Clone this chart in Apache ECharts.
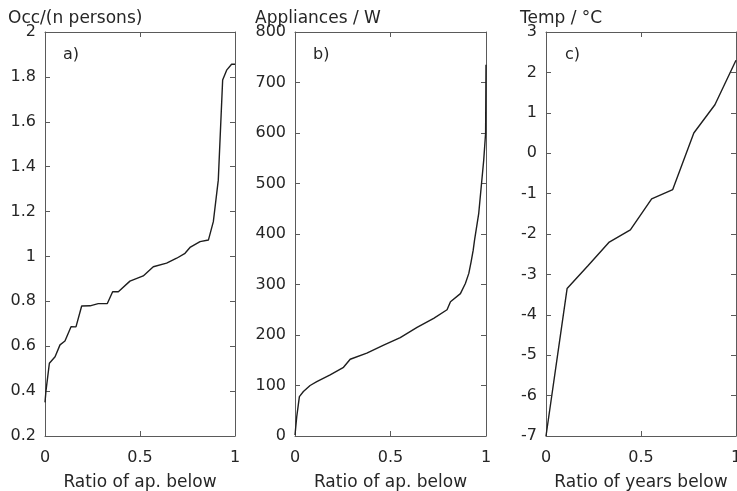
<!DOCTYPE html>
<html>
<head>
<meta charset="utf-8">
<script src="https://cdn.jsdelivr.net/npm/echarts@6/dist/echarts.min.js"></script>
<style>html,body{margin:0;padding:0;background:#fff;}#c{width:737px;height:491px;}</style>
</head>
<body>
<div id="c"></div>
<script>
// Panel a: occupancy
const occX = [0, 0.005, 0.023, 0.053, 0.079, 0.105, 0.137, 0.163, 0.193, 0.237, 0.28, 0.328, 0.356, 0.386, 0.447, 0.517, 0.57, 0.64, 0.693, 0.737, 0.763, 0.816, 0.86, 0.886, 0.912, 0.935, 0.956, 0.982, 1];
const occY = [0.35, 0.4, 0.524, 0.553, 0.606, 0.623, 0.687, 0.686, 0.779, 0.78, 0.79, 0.79, 0.843, 0.843, 0.89, 0.913, 0.954, 0.97, 0.992, 1.014, 1.04, 1.066, 1.073, 1.155, 1.34, 1.786, 1.83, 1.856, 1.856];
// Panel b: appliances
const appX = [0, 0.009, 0.023, 0.044, 0.079, 0.114, 0.184, 0.254, 0.289, 0.376, 0.464, 0.551, 0.639, 0.726, 0.796, 0.814, 0.866, 0.892, 0.91, 0.922, 0.933, 0.94, 0.962, 0.988, 0.998, 1];
const appY = [2, 38, 78, 88, 100, 107.5, 121, 136, 152, 164, 180, 195, 215, 233, 250, 266, 282, 302, 322, 345, 368, 388, 441, 546, 600, 735];
// Panel c: temperature
const tempX = [0, 0.111, 0.222, 0.333, 0.444, 0.556, 0.667, 0.778, 0.889, 1];
const tempY = [-7, -3.35, -2.78, -2.2, -1.9, -1.13, -0.9, 0.5, 1.2, 2.3];

const yNames = ['Occ/(n persons)', 'Appliances / W', 'Temp / °C'];
const xNames = ['Ratio of ap. below', 'Ratio of ap. below', 'Ratio of years below'];
const panelTags = ['a)', 'b)', 'c)'];
const yRanges = [[0.2, 2, 0.2], [0, 800, 100], [-7, 3, 1]];

const FONT = 'DejaVu Sans';
const TXT = '#262626';
const AX = '#5a5a5a';
const grids = [
  {left: 45, top: 32, width: 190, height: 404, outerBoundsMode: 'none', containLabel: false},
  {left: 295, top: 32, width: 191, height: 404, outerBoundsMode: 'none', containLabel: false},
  {left: 546, top: 32, width: 190, height: 404, outerBoundsMode: 'none', containLabel: false}
];
const seriesData = [[occX, occY], [appX, appY], [tempX, tempY]];

const xAxis = [], yAxis = [], series = [];
grids.forEach((g, i) => {
  const common = {
    axisLine: {show: true, onZero: false, lineStyle: {color: AX, width: 1}},
    axisTick: {show: true, inside: true, length: 5, lineStyle: {color: AX}},
    splitLine: {show: false}
  };
  xAxis.push(Object.assign({}, common, {
    gridIndex: i, type: 'value', position: 'bottom', min: 0, max: 1, interval: 0.5,
    axisLabel: {color: TXT, fontFamily: FONT, fontSize: 16, margin: 14},
    name: xNames[i], nameLocation: 'middle', nameGap: 38,
    nameTextStyle: {color: TXT, fontFamily: FONT, fontSize: 17}
  }));
  xAxis.push(Object.assign({}, common, {
    gridIndex: i, type: 'value', position: 'top', min: 0, max: 1, interval: 0.5,
    axisLabel: {show: false}
  }));
  const [mn, mx, iv] = yRanges[i];
  yAxis.push(Object.assign({}, common, {
    gridIndex: i, type: 'value', position: 'left', min: mn, max: mx, interval: iv,
    axisLabel: {color: TXT, fontFamily: FONT, fontSize: 16, margin: 9}
  }));
  yAxis.push(Object.assign({}, common, {
    gridIndex: i, type: 'value', position: 'right', min: mn, max: mx, interval: iv,
    axisLabel: {show: false}
  }));
  const [xs, ys] = seriesData[i];
  series.push({
    type: 'line', xAxisIndex: i * 2, yAxisIndex: i * 2, showSymbol: false, symbol: 'none',
    data: xs.map((x, k) => [x, ys[k]]),
    lineStyle: {color: '#1e1e1e', width: 1.4}, animation: false
  });
});

const nameX = [8, 255, 520];
const tagX = [63, 313, 565];
const titles = [];
yNames.forEach((n, i) => {
  titles.push({text: n, left: nameX[i], top: 10, textStyle: {color: TXT, fontFamily: FONT, fontSize: 17, fontWeight: 'normal'}});
  titles.push({text: panelTags[i], left: tagX[i], top: 47, textStyle: {color: TXT, fontFamily: FONT, fontSize: 16, fontWeight: 'normal'}});
});

const chart = echarts.init(document.getElementById('c'));
chart.setOption({
  animation: false,
  backgroundColor: '#fff',
  title: titles.map(t => Object.assign({padding: 0}, t)),
  grid: grids,
  xAxis, yAxis, series
});
</script>
</body>
</html>
